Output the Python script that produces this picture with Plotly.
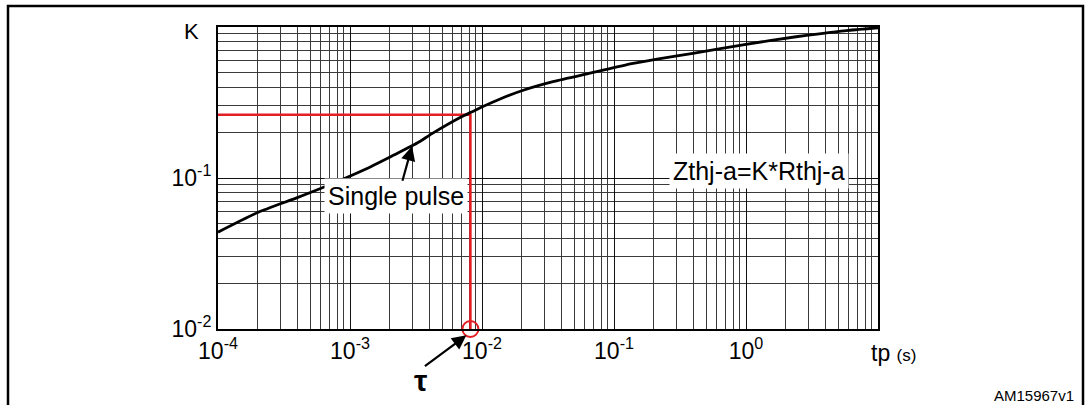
import plotly.graph_objects as go

# ---- data ----
pulse_duration_s = [1e-4, 2.0e-4, 3.9e-4, 6.8e-4, 1.27e-3, 2.11e-3, 3.23e-3, 4.18e-3,
                    7.0e-3, 8.31e-3, 9.88e-3, 1.4e-2, 2.08e-2, 3.51e-2, 6.73e-2, 0.136,
                    0.212, 0.396, 0.972, 2.40, 3.46, 5.98, 10.0]
k_single_pulse = [0.0438, 0.0591, 0.0736, 0.0892, 0.1129, 0.1408, 0.1705, 0.1967,
                  0.2543, 0.2732, 0.2939, 0.3362, 0.3825, 0.436, 0.496, 0.5717,
                  0.6131, 0.6693, 0.7652, 0.8619, 0.8978, 0.9508, 0.989]

tau_s = 8.17e-3
k_tau = 0.262
k_floor = 0.01
t_start = 1e-4

x_tickvals = [1e-4, 1e-3, 1e-2, 1e-1, 1e0]
x_ticktext = ["10<sup>-4</sup>", "10<sup>-3</sup>", "10<sup>-2</sup>",
              "10<sup>-1</sup>", "10<sup>0</sup>"]
y_tickvals = [1e-2, 1e-1]
y_ticktext = ["10<sup>-2</sup>", "10<sup>-1</sup>"]

FONT = "Liberation Sans, Arial, sans-serif"
RED = "#e31e24"

fig = go.Figure()

# red construction lines for tau
fig.add_trace(go.Scatter(x=[t_start, tau_s, tau_s], y=[k_tau, k_tau, k_floor],
                         mode="lines", line=dict(color=RED, width=2.5),
                         hoverinfo="skip", showlegend=False))
# single pulse curve
fig.add_trace(go.Scatter(x=pulse_duration_s, y=k_single_pulse, mode="lines",
                         line=dict(color="black", width=2.8, shape="spline", smoothing=0.6),
                         showlegend=False))
# circle at tau
fig.add_trace(go.Scatter(x=[tau_s], y=[k_floor], mode="markers", cliponaxis=False,
                         marker=dict(symbol="circle-open", size=16,
                                     line=dict(color=RED, width=2), color=RED),
                         showlegend=False))

W, H = 1086, 405
L, R, T, B = 218, 208, 27, 76
pw, ph = W - L - R, H - T - B


def px(x):
    return (x - L) / pw


def py(y):
    return (H - B - y) / ph


def label(text, x, y, size, xanchor="center", **kw):
    return dict(text=text, x=px(x), y=py(y), xref="paper", yref="paper",
                xanchor=xanchor, yanchor="middle", showarrow=False,
                font=dict(family=FONT, size=size, color="black"), **kw)


annotations = [
    label("Single pulse", 396, 196, 25, bgcolor="white", borderpad=3),
    label("Zthj-a=K*Rthj-a", 759, 171.5, 25, bgcolor="white", borderpad=3),
    # arrow to the curve
    dict(text="", x=-2.530, y=-0.790, xref="x", yref="y", showarrow=True,
         ax=-10, ay=36, axref="pixel", ayref="pixel",
         arrowhead=2, arrowsize=1.3, arrowwidth=2.2, arrowcolor="black"),
    # arrow to tau
    dict(text="", x=-2.118, y=-0.021, xref="x", yref="paper", showarrow=True,
         ax=-43, ay=32, arrowhead=2, arrowsize=1.3, arrowwidth=2.2, arrowcolor="black"),
    label("<b>τ</b>", 420, 380, 30),
    label("K", 191, 32, 22),
    label("tp <span style='font-size:17px'>(s)</span>", 893, 353, 23),
    label("AM15967v1", 1076, 395, 15, xanchor="right"),
]

shapes = [
    dict(type="rect", xref="paper", yref="paper",
         x0=px(8), x1=px(1083), y0=py(430), y1=py(6),
         line=dict(color="black", width=2.5), fillcolor="rgba(0,0,0,0)", layer="below"),
]

axis_common = dict(
    type="log", showline=True, mirror=True, linecolor="black", linewidth=2,
    showgrid=True, gridcolor="#111111", gridwidth=1, ticks="", zeroline=False,
    tickfont=dict(family=FONT, size=23, color="black"), tickmode="array",
)

fig.update_layout(
    width=W, height=H,
    margin=dict(l=L, r=R, t=T, b=B),
    paper_bgcolor="white", plot_bgcolor="white",
    xaxis=dict(range=[-4, 1], tickvals=x_tickvals, ticktext=x_ticktext,
               minor=dict(dtick="D1", showgrid=True, gridcolor="#3a3a3a", gridwidth=1),
               **axis_common),
    yaxis=dict(range=[-2, 0], tickvals=y_tickvals, ticktext=y_ticktext,
               minor=dict(dtick="D1", showgrid=True, gridcolor="#3a3a3a", gridwidth=1),
               **axis_common),
    annotations=annotations,
    shapes=shapes,
    showlegend=False,
)

fig.write_html("out.html", config={"displayModeBar": False},
               post_script="document.body.style.margin='0px';"
                           "document.documentElement.style.overflow='hidden';")
